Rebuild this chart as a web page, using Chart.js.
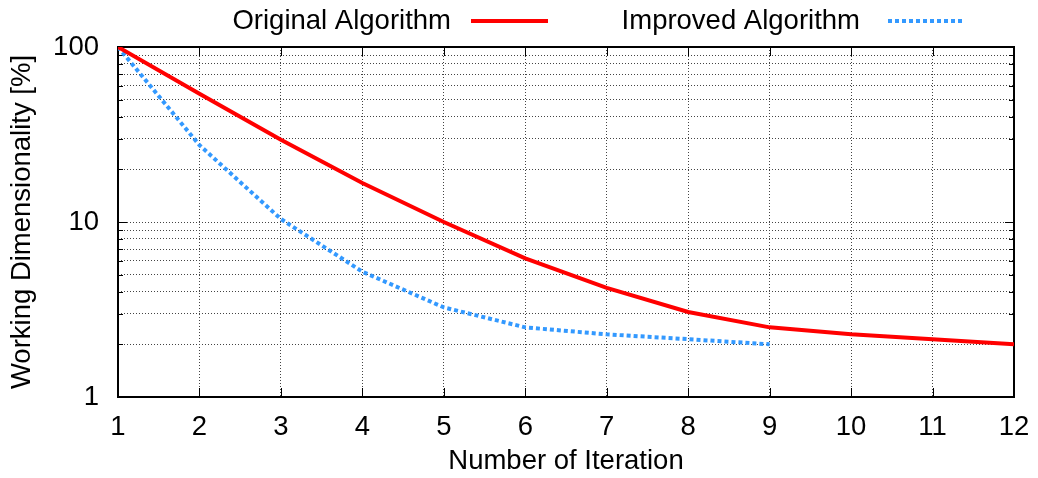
<!DOCTYPE html>
<html>
<head>
<meta charset="utf-8">
<script src="https://cdn.jsdelivr.net/npm/chart.js@4/dist/chart.umd.min.js"></script>
<style>
html,body{margin:0;padding:0;background:#fff;}
canvas{display:block;}
</style>
</head>
<body>
<canvas id="c" width="1038" height="478"></canvas>
<script>
const iterations = [1,2,3,4,5,6,7,8,9,10,11,12];
const originalValues = [100, 54, 29.5, 16.7, 10, 6.2, 4.2, 3.06, 2.5, 2.28, 2.14, 2.0];
const improvedValues = [100, 27.5, 10.4, 5.2, 3.25, 2.5, 2.28, 2.14, 2.0];
const seriesNames = ['Original Algorithm', 'Improved Algorithm'];
const yTickValues = [1,2,3,4,5,6,7,8,9,10,20,30,40,50,60,70,80,90,100];
const yTickLabels = {1:'1', 10:'10', 100:'100'};
const xAxisTitle = 'Number of Iteration';
const yAxisTitle = 'Working Dimensionality [%]';

const FONT = "'Liberation Sans', Arial, Helvetica, sans-serif";
const FS = 27.5;

function pts(vals){ return vals.map((v,i)=>({x: iterations[i], y: v})); }

const frameTicks = {
  id: 'frameTicks',
  beforeDatasetsDraw(chart){
    const {ctx, chartArea:a, scales:{x,y}} = chart;
    ctx.save();
    ctx.strokeStyle = '#000';
    ctx.lineWidth = 1;
    ctx.beginPath();
    yTickValues.forEach(v=>{
      const py = Math.round(y.getPixelForValue(v)) + 0.5;
      const len = yTickLabels[v] ? 9 : 5;
      ctx.moveTo(a.left, py); ctx.lineTo(a.left + len, py);
      ctx.moveTo(a.right, py); ctx.lineTo(a.right - len, py);
    });
    iterations.forEach(v=>{
      const px = Math.round(x.getPixelForValue(v)) + 0.5;
      ctx.moveTo(px, a.bottom); ctx.lineTo(px, a.bottom - 9);
      ctx.moveTo(px, a.top); ctx.lineTo(px, a.top + 9);
    });
    ctx.stroke();
    ctx.lineWidth = 2;
    ctx.strokeRect(a.left, a.top, a.right - a.left, a.bottom - a.top);
    ctx.restore();
  }
};

const keyPlugin = {
  id: 'keyPlugin',
  afterDraw(chart){
    const {ctx} = chart;
    const items = [
      {textRight: 451, x0: 471, x1: 548},
      {textRight: 860, x0: 888, x1: 964}
    ];
    ctx.save();
    ctx.font = FS + 'px ' + FONT;
    ctx.fillStyle = '#000';
    ctx.textAlign = 'right';
    ctx.textBaseline = 'middle';
    items.forEach((it, i)=>{
      const ds = chart.data.datasets[i];
      const yy = 21;
      ctx.fillText(ds.label, it.textRight, yy);
      ctx.save();
      ctx.strokeStyle = ds.borderColor;
      ctx.lineWidth = ds.borderWidth;
      ctx.setLineDash(ds.borderDash || []);
      ctx.beginPath();
      ctx.moveTo(it.x0, yy); ctx.lineTo(it.x1, yy);
      ctx.stroke();
      ctx.restore();
    });
    ctx.restore();
  }
};

new Chart(document.getElementById('c'), {
  type: 'line',
  data: {
    datasets: [
      {label: seriesNames[0], data: pts(originalValues), borderColor: '#ff0000', borderWidth: 4,
       pointRadius: 0, tension: 0, fill: false},
      {label: seriesNames[1], data: pts(improvedValues), borderColor: 'rgb(51,153,255)', borderWidth: 4,
       borderDash: [4,3], pointRadius: 0, tension: 0, fill: false}
    ]
  },
  options: {
    responsive: false,
    animation: false,
    devicePixelRatio: 1,
    layout: {padding: {top: 47, right: 24, left: 0, bottom: 0}},
    plugins: {legend: {display: false}, tooltip: {enabled: false}},
    scales: {
      x: {
        type: 'linear', min: 1, max: 12,
        afterFit(s){ s.height = 81; s.paddingLeft = 0; s.paddingRight = 0; },
        afterBuildTicks(s){ s.ticks = iterations.map(v=>({value: v})); },
        ticks: {color: '#000', font: {family: FONT, size: FS}, padding: 14, maxRotation: 0,
                autoSkip: false, callback: v => String(v)},
        grid: {color: '#444', lineWidth: 1, drawTicks: false},
        border: {display: false, dash: [1,2]},
        title: {display: true, text: xAxisTitle, color: '#000', font: {family: FONT, size: FS},
                padding: {top: 0, bottom: 0}}
      },
      y: {
        type: 'logarithmic', min: 1, max: 100,
        afterFit(s){ s.width = 118; s.paddingTop = 0; s.paddingBottom = 0; },
        afterBuildTicks(s){ s.ticks = yTickValues.map(v=>({value: v})); },
        ticks: {color: '#000', font: {family: FONT, size: FS}, padding: 19, autoSkip: false,
                callback: v => yTickLabels[v] || ''},
        grid: {color: '#444', lineWidth: 1, drawTicks: false},
        border: {display: false, dash: [1,2]},
        title: {display: true, text: yAxisTitle, color: '#000', font: {family: FONT, size: FS},
                padding: {top: 6, bottom: 0}}
      }
    }
  },
  plugins: [frameTicks, keyPlugin]
});
</script>
</body>
</html>
